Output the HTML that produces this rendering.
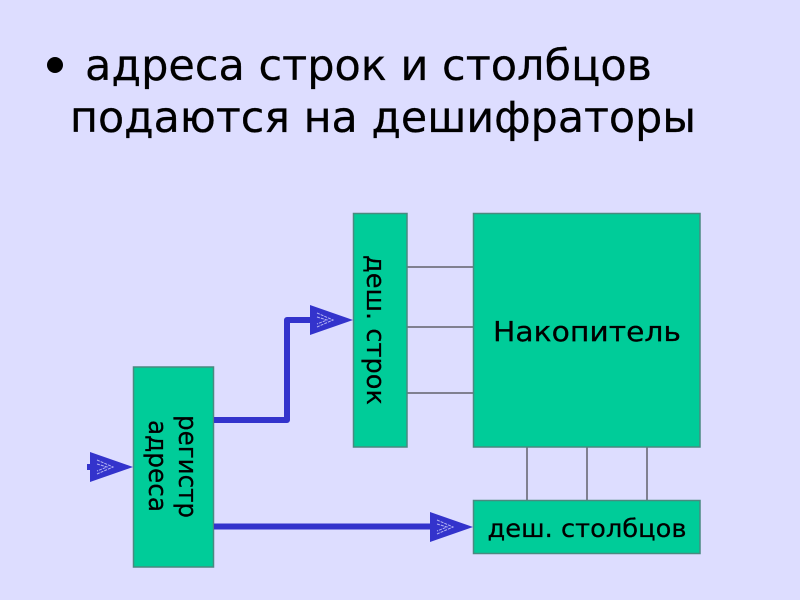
<!DOCTYPE html>
<html lang="ru">
<head>
<meta charset="utf-8">
<style>
html,body{margin:0;padding:0;background:#ddddff;}
svg{display:block;}
text{font-family:"DejaVu Sans","Liberation Sans",sans-serif;fill:#000;stroke:#000;stroke-width:.25px;}
</style>
</head>
<body>
<svg width="800" height="600" viewBox="0 0 800 600" xmlns="http://www.w3.org/2000/svg">
<rect width="800" height="600" fill="#ddddff"/>
<circle cx="55" cy="65" r="8" fill="#000"/>
<text x="85" y="80" font-size="42.500" textLength="567" lengthAdjust="spacingAndGlyphs">адреса строк и столбцов</text>
<text x="70" y="132" font-size="42.500" textLength="626" lengthAdjust="spacingAndGlyphs">подаются на дешифраторы</text>

<g stroke="#808090" stroke-width="2" fill="none">
<path d="M407 267H473M407 327H473M407 393H473"/>
<path d="M527 447V500M587 447V500M647 447V500"/>
</g>

<g fill="#00cc99" stroke="#4a8a80" stroke-width="1.5">
<rect x="133.500" y="367" width="80" height="200"/>
<rect x="353.500" y="213.500" width="53.500" height="233.500"/>
<rect x="473.500" y="213.500" width="226.500" height="233.500"/>
<rect x="473.500" y="500.500" width="226.500" height="53"/>
</g>

<g fill="none" stroke="#3333cc" stroke-width="6" stroke-linejoin="round">
<path d="M214 420H287V320H312"/>
<path d="M214 526.500H432"/>
<path d="M87 467H92"/>
</g>
<g fill="#3333cc">
<polygon points="353,320 310,305 310,335"/>
<polygon points="473,527 430,512 430,542"/>
<polygon points="133,467 90,452 90,482"/>
</g>
<g fill="none" stroke="#b4b4f4" stroke-width="1" stroke-dasharray="3 1">
<path d="M317 313L333 320L317 327M317 317L327 320L317 324"/>
<path d="M437 520L453 527L437 534M437 524L447 527L437 531"/>
<path d="M97 460L113 467L97 474M97 464L107 467L97 471"/>
</g>

<text x="587" y="341" font-size="28" text-anchor="middle" textLength="188" lengthAdjust="spacingAndGlyphs">Накопитель</text>
<text x="587" y="537" font-size="25" text-anchor="middle" textLength="199" lengthAdjust="spacingAndGlyphs">деш. столбцов</text>
<text transform="translate(367,255) rotate(90)" font-size="26" textLength="150" lengthAdjust="spacingAndGlyphs">деш. строк</text>
<text transform="translate(179,415) rotate(90)" font-size="26" textLength="103" lengthAdjust="spacingAndGlyphs">регистр</text>
<text transform="translate(149,420) rotate(90)" font-size="26" textLength="92" lengthAdjust="spacingAndGlyphs">адреса</text>
</svg>
</body>
</html>
